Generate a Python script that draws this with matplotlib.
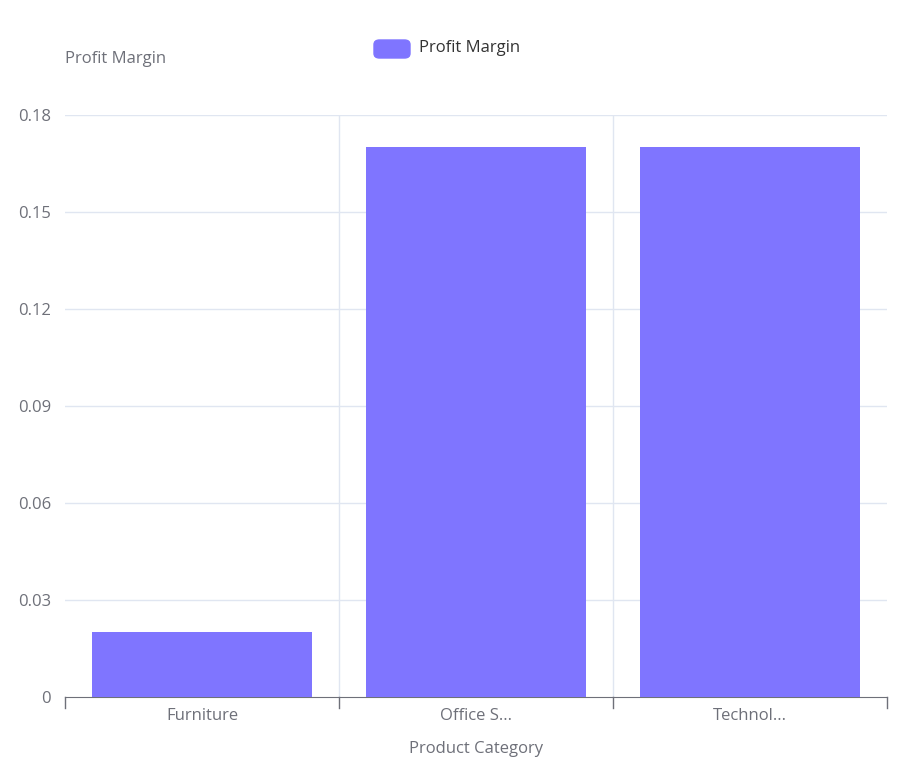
"""Profit margin by product category."""
import matplotlib
matplotlib.use("Agg")
from matplotlib import pyplot as plt
from matplotlib.patches import FancyBboxPatch

categories = ["Furniture", "Office S...", "Technol..."]
profit_margin = [0.02, 0.17, 0.17]
y_ticks = [0, 0.03, 0.06, 0.09, 0.12, 0.15, 0.18]
y_tick_labels = ["0", "0.03", "0.06", "0.09", "0.12", "0.15", "0.18"]

BAR_COLOR = "#7f75ff"
TEXT_COLOR = "#6e7079"
GRID_COLOR = "#e0e6f1"

plt.rcParams["font.family"] = ["Open Sans", "DejaVu Sans"]

fig = plt.figure(figsize=(9.04, 7.66), dpi=100)
ax = fig.add_axes([65 / 904, 69 / 766, 822 / 904, 582 / 766])

x = list(range(len(categories)))
ax.bar(x, profit_margin, width=0.8, color=BAR_COLOR, zorder=3)

ax.set_xlim(-0.5, len(categories) - 0.5)
ax.set_ylim(0, 0.18)
ax.set_yticks(y_ticks)
ax.set_yticklabels(y_tick_labels)
ax.set_xticks(x)
ax.set_xticklabels(categories)

# grid: horizontal at ticks, vertical at category boundaries
for t in y_ticks[1:]:
    ax.axhline(t, color=GRID_COLOR, lw=1, zorder=1)
for b in [0.5, 1.5]:
    ax.axvline(b, color=GRID_COLOR, lw=1, zorder=1)

for side in ["top", "right", "left"]:
    ax.spines[side].set_visible(False)
ax.spines["bottom"].set_color(TEXT_COLOR)
ax.tick_params(axis="y", length=0, labelsize=12, labelcolor=TEXT_COLOR, pad=10)
ax.tick_params(axis="x", length=0, labelsize=12, labelcolor=TEXT_COLOR, pad=8)
# boundary ticks on x axis
for b in [-0.5, 0.5, 1.5, 2.5]:
    ax.plot([b, b], [0, -0.0035], color=TEXT_COLOR, lw=1, clip_on=False)

ax.set_xlabel("Product Category", fontsize=12, color=TEXT_COLOR, labelpad=12)
fig.text(65 / 904, 1 - 59 / 766, "Profit Margin", fontsize=12,
         color=TEXT_COLOR, va="center", ha="left")

# legend
fig.patches.append(FancyBboxPatch((374 / 904, 1 - 58 / 766), 36 / 904, 18 / 766,
                                  boxstyle="round,pad=0,rounding_size=0.006",
                                  transform=fig.transFigure, color=BAR_COLOR))
fig.text(419 / 904, 1 - 48 / 766, "Profit Margin", fontsize=12,
         color="#333333", va="center", ha="left")

fig.savefig("out.png", dpi=100)
